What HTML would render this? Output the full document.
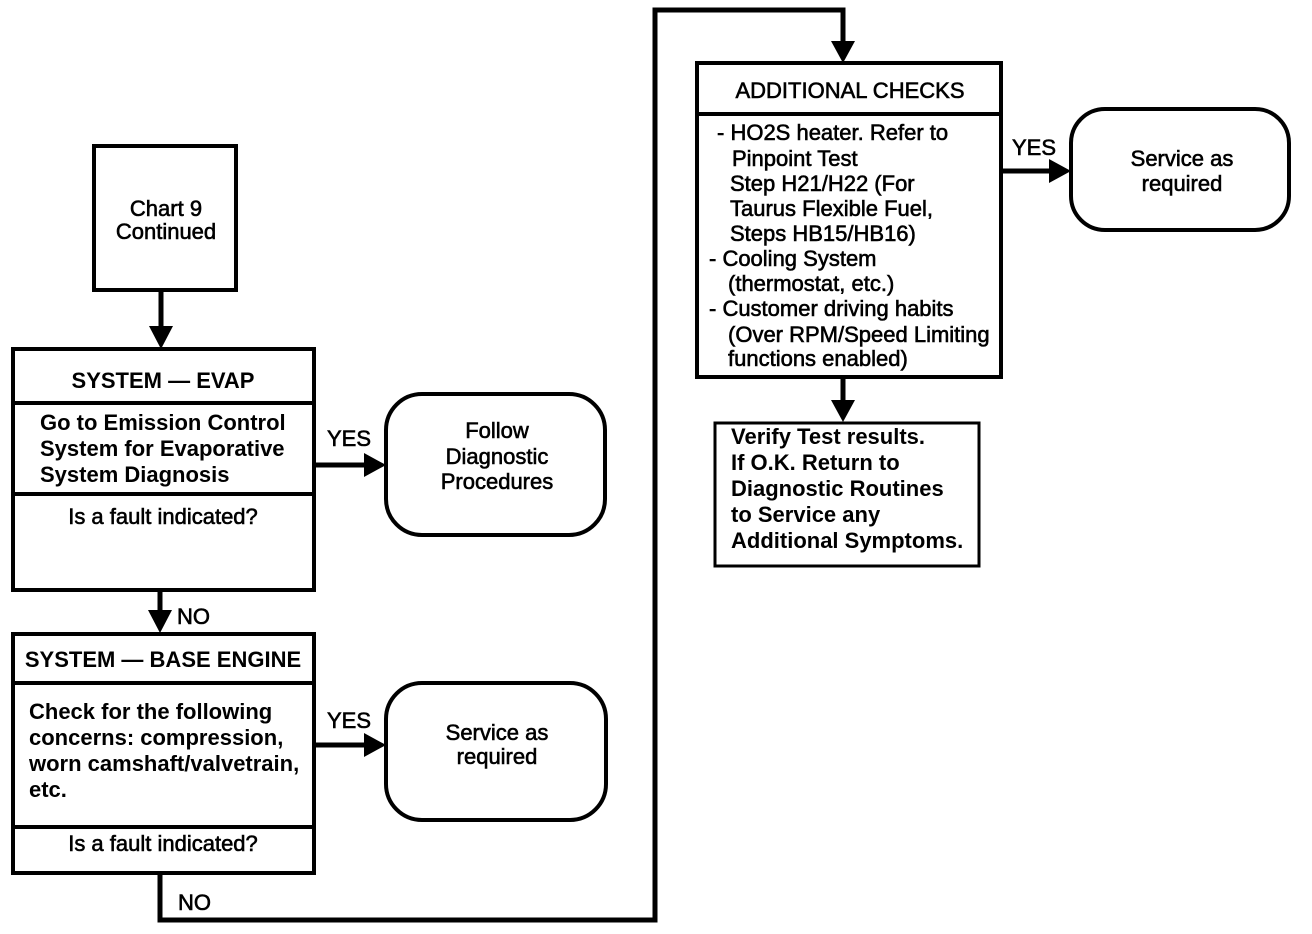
<!DOCTYPE html>
<html><head><meta charset="utf-8"><style>
html,body{margin:0;padding:0;background:#fff;}
svg{display:block;}
text{font-family:"Liberation Sans",Arial,sans-serif;font-weight:bold;font-size:22px;fill:#000;}
.n{font-weight:normal;stroke:#000;stroke-width:0.6;}
</style></head><body>
<svg width="1312" height="934" viewBox="0 0 1312 934" xmlns="http://www.w3.org/2000/svg">
<g fill="none" stroke="#000" stroke-width="4">
<rect x="94" y="146" width="142" height="144"/>
<rect x="13" y="349" width="301" height="241"/>
<line x1="13" y1="403" x2="314" y2="403"/>
<line x1="13" y1="494" x2="314" y2="494"/>
<rect x="386" y="394" width="219" height="141" rx="36"/>
<rect x="13" y="634" width="301" height="239"/>
<line x1="13" y1="683" x2="314" y2="683"/>
<line x1="13" y1="827" x2="314" y2="827"/>
<rect x="386" y="683" width="220" height="137" rx="36"/>
<rect x="697" y="63" width="304" height="314"/>
<line x1="697" y1="114" x2="1001" y2="114"/>
<rect x="1071" y="109" width="218" height="121" rx="34"/>
<rect x="715" y="423" width="264" height="143" stroke-width="3"/>
<polyline points="160,873 160,920 655,920 655,10 843,10 843,45" stroke-width="5"/>
<line x1="161" y1="290" x2="161" y2="330" stroke-width="5"/>
<line x1="160" y1="590" x2="160" y2="614" stroke-width="5"/>
<line x1="314" y1="465" x2="367" y2="465" stroke-width="5"/>
<line x1="314" y1="745" x2="367" y2="745" stroke-width="5"/>
<line x1="1001" y1="171" x2="1052" y2="171" stroke-width="5"/>
<line x1="843" y1="377" x2="843" y2="404" stroke-width="5"/>
</g>
<g fill="#000">
<polygon points="149,326 173,326 161,349"/>
<polygon points="148,610 172,610 160,633"/>
<polygon points="831,41 855,41 843,63"/>
<polygon points="831,400 855,400 843,422"/>
<polygon points="364,453 364,477 386,465"/>
<polygon points="364,733 364,757 386,745"/>
<polygon points="1049,159 1049,183 1071,171"/>
</g>
<text x="166" y="216" text-anchor="middle" class="n">Chart 9</text>
<text x="166" y="239" text-anchor="middle" class="n">Continued</text>
<text x="163" y="388" text-anchor="middle">SYSTEM — EVAP</text>
<text x="40" y="430">Go to Emission Control</text>
<text x="40" y="456">System for Evaporative</text>
<text x="40" y="482">System Diagnosis</text>
<text x="163" y="524" text-anchor="middle" class="n">Is a fault indicated?</text>
<text x="327" y="446" class="n">YES</text>
<text x="497" y="438" text-anchor="middle" class="n">Follow</text>
<text x="497" y="464" text-anchor="middle" class="n">Diagnostic</text>
<text x="497" y="489" text-anchor="middle" class="n">Procedures</text>
<text x="177" y="624" class="n">NO</text>
<text x="163" y="667" text-anchor="middle">SYSTEM — BASE ENGINE</text>
<text x="29" y="719">Check for the following</text>
<text x="29" y="745">concerns: compression,</text>
<text x="29" y="771">worn camshaft/valvetrain,</text>
<text x="29" y="797">etc.</text>
<text x="163" y="851" text-anchor="middle" class="n">Is a fault indicated?</text>
<text x="327" y="728" class="n">YES</text>
<text x="497" y="740" text-anchor="middle" class="n">Service as</text>
<text x="497" y="764" text-anchor="middle" class="n">required</text>
<text x="178" y="910" class="n">NO</text>
<text x="850" y="98" text-anchor="middle" class="n">ADDITIONAL CHECKS</text>
<text x="717" y="140" class="n">- HO2S heater. Refer to</text>
<text x="732" y="166" class="n">Pinpoint Test</text>
<text x="730" y="191" class="n">Step H21/H22 (For</text>
<text x="730" y="216" class="n">Taurus Flexible Fuel,</text>
<text x="730" y="241" class="n">Steps HB15/HB16)</text>
<text x="709" y="266" class="n">- Cooling System</text>
<text x="728" y="291" class="n">(thermostat, etc.)</text>
<text x="709" y="316" class="n">- Customer driving habits</text>
<text x="728" y="342" class="n">(Over RPM/Speed Limiting</text>
<text x="728" y="366" class="n">functions enabled)</text>
<text x="1012" y="155" class="n">YES</text>
<text x="1182" y="166" text-anchor="middle" class="n">Service as</text>
<text x="1182" y="191" text-anchor="middle" class="n">required</text>
<g style="font-size:23px">
<text x="731" y="444">Verify Test results.</text>
<text x="731" y="470">If O.K. Return to</text>
<text x="731" y="496">Diagnostic Routines</text>
<text x="731" y="522">to Service any</text>
<text x="731" y="548">Additional Symptoms.</text>
</g>
</svg>
</body></html>
